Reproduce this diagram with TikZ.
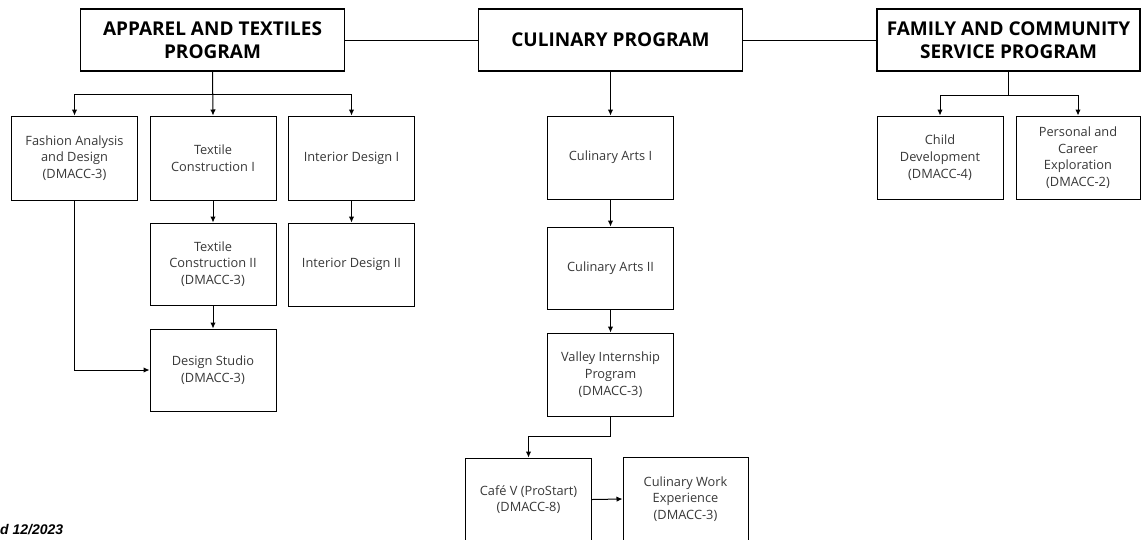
\documentclass[tikz,border=0pt]{standalone}
\usepackage{fontspec}
\setmainfont{Open Sans}
\newfontfamily\footfont{Liberation Sans}
\usetikzlibrary{arrows.meta}
\begin{document}
\begin{tikzpicture}[x=1pt,y=-1pt,
        box/.style={draw,line width=1pt,minimum width=126pt,minimum height=83pt,align=center,text=black!78,font=\fontsize{12.8}{16.7}\selectfont},
        head/.style={draw,line width=1.1pt,minimum width=264pt,minimum height=62pt,align=center,font=\bfseries\fontsize{19}{23}\selectfont},
        arr/.style={line width=1pt,-{Latex[length=6pt,width=5.5pt]}}]
        \useasboundingbox (0,0) rectangle (1141,539);
        \node[head] (apparel) at (212.5,40) {APPAREL AND TEXTILES\\PROGRAM};
        \node[head] (culinary) at (610.5,40) {CULINARY PROGRAM};
        \node[head,minimum width=263pt] (family) at (1008.5,40) {FAMILY AND COMMUNITY\\SERVICE PROGRAM};
        \node[box,minimum height=84pt] (fashion) at (74.5,158) {Fashion Analysis\\and Design\\(DMACC-3)};
        \node[box,minimum height=84pt] (texI) at (213,158) {Textile\\Construction I};
        \node[box,minimum height=84pt] (intI) at (351.5,158) {Interior Design I};
        \node[box,minimum height=82pt] (texII) at (213,264) {Textile\\Construction II\\(DMACC-3)};
        \node[box] (intII) at (351.5,264.5) {Interior Design II};
        \node[box,minimum height=82pt] (studio) at (213,370) {Design Studio\\(DMACC-3)};
        \node[box] (culI) at (610.5,157.5) {Culinary Arts I};
        \node[box,minimum height=82pt] (culII) at (610.5,268) {Culinary Arts II};
        \node[box] (valley) at (610.5,374.5) {Valley Internship\\Program\\(DMACC-3)};
        \node[box] (cafe) at (528.5,499.5) {Café V (ProStart)\\(DMACC-8)};
        \node[box,minimum width=125pt] (work) at (685.5,499) {Culinary Work\\Experience\\(DMACC-3)};
        \node[box] (child) at (940,157.5) {Child\\Development\\(DMACC-4)};
        \node[box,minimum width=124pt] (personal) at (1078,157.5) {Personal and\\Career\\Exploration\\(DMACC-2)};
        \node[anchor=base west,inner sep=0pt,font=\footfont\bfseries\itshape\fontsize{14}{16}\selectfont] (revised) at (0,534) {d 12/2023};
        \draw[line width=1pt] (apparel.east) -- (culinary.west);
        \draw[line width=1pt] (culinary.east) -- (family.west);
        \draw[arr] (apparel.south) -- (texI.north);
        \draw[arr] (apparel.south) -- ++(0,23) -| (fashion.north);
        \draw[arr] (apparel.south) -- ++(0,23) -| (intI.north);
        \draw[arr] (texI) -- (texII);
        \draw[arr] (texII) -- (studio);
        \draw[arr] (intI) -- (intII);
        \draw[arr] (fashion.south) |- (studio.west);
        \draw[arr] (culinary) -- (culI);
        \draw[arr] (culI) -- (culII);
        \draw[arr] (culII) -- (valley);
        \draw[arr] (valley.south) -- ++(0,20) -| (cafe.north);
        \draw[arr] (cafe.east) -- (work.west);
        \draw[arr] (family.south) -- ++(0,24) -| (child.north);
        \draw[arr] (family.south) -- ++(0,24) -| (personal.north);
\end{tikzpicture}
\end{document}
